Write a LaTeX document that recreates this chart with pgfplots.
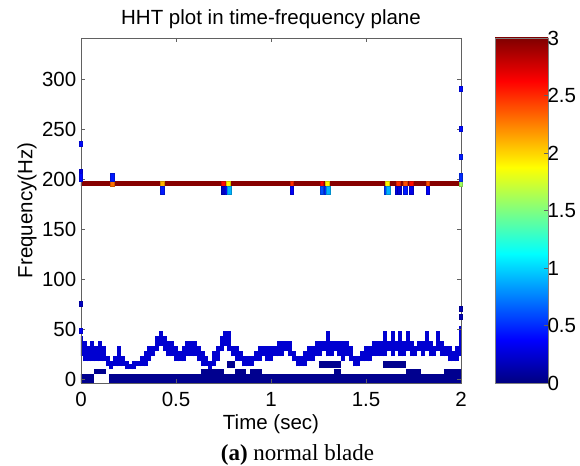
\documentclass[border=0pt]{standalone}
\usepackage{pgfplots}
\pgfplotsset{compat=1.18}
\usepackage{fontspec}
\setmainfont{Liberation Sans}
\newfontfamily\capfont{Liberation Serif}
\definecolor{navyc}{rgb}{0,0,0.56}
\definecolor{trackc}{rgb}{0,0,0.82}
\definecolor{linec}{rgb}{0.53,0,0}
\definecolor{axc}{rgb}{0.38,0.38,0.38}
\definecolor{jetA}{RGB}{0,0,128}
\definecolor{jetB}{RGB}{0,0,255}
\definecolor{jetC}{RGB}{0,255,255}
\definecolor{jetD}{RGB}{255,255,0}
\definecolor{jetE}{RGB}{255,0,0}
\definecolor{jetF}{RGB}{128,0,0}
\pgfkeys{/pgf/number format/assume math mode=true}
\newcommand\F{\fontsize{20.5bp}{24bp}\selectfont}
\begin{document}
\begin{tikzpicture}
\path[use as bounding box] (-81bp,-83bp) rectangle (499bp,383bp);
\begin{axis}[
  at={(0,0)}, anchor=south west,
  scale only axis, width=380bp, height=345bp,
  xmin=0, xmax=2, ymin=-4, ymax=341,
  xtick={0,0.5,1,1.5,2}, ytick={0,50,...,300},
  tick align=inside, major tick length=4bp,
  axis line style={axc, line width=0.6bp}, tick style={axc, line width=0.6bp},
  axis on top,
  tick label style={font=\F},
  xticklabel style={anchor=base, yshift=-24bp},
  yticklabel style={anchor=east, xshift=-1.2bp},
  title={HHT plot in time-frequency plane},
  title style={font=\F, at={(axis description cs:0.5,1)}, anchor=base, yshift=8bp},
  xlabel={Time (sec)},
  xlabel style={font=\F, at={(axis description cs:0.5,0)}, anchor=base, yshift=-46bp},
  ylabel={Frequency(Hz)},
  ylabel style={font=\F, at={(axis description cs:-0.142,0.5)}, anchor=center},
  colormap/jet, point meta min=0, point meta max=3,
  unbounded coords=jump,
]
% bottom navy band
\addplot[navyc, line width=9bp] coordinates {(-0.02,0) (0.07,0) (0.07,nan) (0.15,0) (2.02,0)};
% second navy row
\addplot[navyc, line width=5bp] coordinates {
 (0.07,7) (0.13,7) (0.13,nan)
 (0.63,7) (0.75,7) (0.75,nan)
 (0.81,7) (0.87,7) (0.87,nan)
 (0.89,7) (0.95,7) (0.95,nan)
 (1.33,7) (1.37,7) (1.37,nan)
 (1.71,7) (1.79,7) (1.79,nan)
 (1.91,7) (2.02,7)};
% navy blocks
\addplot[navyc, line width=7bp] coordinates {
 (0.77,14.5) (0.81,14.5) (0.81,nan)
 (1.25,14.5) (1.37,14.5) (1.37,nan)
 (1.59,14.5) (1.71,14.5)};
% blue track (column: low, high)
\addplot[trackc, line width=3.9bp] coordinates {
(0.00,22.5)(0.00,42.5)(0.00,nan)
(0.02,17.5)(0.02,37.5)(0.02,nan)
(0.04,17.5)(0.04,32.5)(0.04,nan)
(0.06,17.5)(0.06,37.5)(0.06,nan)
(0.08,17.5)(0.08,32.5)(0.08,nan)
(0.10,17.5)(0.10,37.5)(0.10,nan)
(0.12,17.5)(0.12,32.5)(0.12,nan)
(0.14,12.5)(0.14,22.5)(0.14,nan)
(0.16,9.5)(0.16,17.5)(0.16,nan)
(0.18,12.5)(0.18,22.5)(0.18,nan)
(0.20,12.5)(0.20,32.5)(0.20,nan)
(0.22,12.5)(0.22,22.5)(0.22,nan)
(0.24,9.5)(0.24,17.5)(0.24,nan)
(0.26,9.5)(0.26,14.5)(0.26,nan)
(0.28,9.5)(0.28,17.5)(0.28,nan)
(0.30,12.5)(0.30,17.5)(0.30,nan)
(0.32,12.5)(0.32,22.5)(0.32,nan)
(0.34,12.5)(0.34,27.5)(0.34,nan)
(0.36,17.5)(0.36,32.5)(0.36,nan)
(0.38,22.5)(0.38,32.5)(0.38,nan)
(0.40,27.5)(0.40,42.5)(0.40,nan)
(0.42,32.5)(0.42,47.5)(0.42,nan)
(0.44,27.5)(0.44,42.5)(0.44,nan)
(0.46,22.5)(0.46,37.5)(0.46,nan)
(0.48,22.5)(0.48,37.5)(0.48,nan)
(0.50,17.5)(0.50,32.5)(0.50,nan)
(0.52,17.5)(0.52,27.5)(0.52,nan)
(0.54,17.5)(0.54,32.5)(0.54,nan)
(0.56,22.5)(0.56,37.5)(0.56,nan)
(0.58,22.5)(0.58,37.5)(0.58,nan)
(0.60,22.5)(0.60,37.5)(0.60,nan)
(0.62,17.5)(0.62,32.5)(0.62,nan)
(0.64,12.5)(0.64,27.5)(0.64,nan)
(0.66,12.5)(0.66,22.5)(0.66,nan)
(0.68,9.5)(0.68,17.5)(0.68,nan)
(0.70,12.5)(0.70,27.5)(0.70,nan)
(0.72,17.5)(0.72,32.5)(0.72,nan)
(0.74,27.5)(0.74,42.5)(0.74,nan)
(0.76,32.5)(0.76,47.5)(0.76,nan)
(0.78,27.5)(0.78,47.5)(0.78,nan)
(0.80,22.5)(0.80,32.5)(0.80,nan)
(0.82,17.5)(0.82,32.5)(0.82,nan)
(0.84,17.5)(0.84,27.5)(0.84,nan)
(0.86,12.5)(0.86,22.5)(0.86,nan)
(0.88,12.5)(0.88,22.5)(0.88,nan)
(0.90,12.5)(0.90,22.5)(0.90,nan)
(0.92,17.5)(0.92,27.5)(0.92,nan)
(0.94,17.5)(0.94,32.5)(0.94,nan)
(0.96,22.5)(0.96,32.5)(0.96,nan)
(0.98,17.5)(0.98,32.5)(0.98,nan)
(1.00,17.5)(1.00,32.5)(1.00,nan)
(1.02,22.5)(1.02,32.5)(1.02,nan)
(1.04,22.5)(1.04,37.5)(1.04,nan)
(1.06,22.5)(1.06,37.5)(1.06,nan)
(1.08,27.5)(1.08,37.5)(1.08,nan)
(1.10,22.5)(1.10,37.5)(1.10,nan)
(1.12,17.5)(1.12,27.5)(1.12,nan)
(1.14,12.5)(1.14,22.5)(1.14,nan)
(1.16,12.5)(1.16,22.5)(1.16,nan)
(1.18,12.5)(1.18,27.5)(1.18,nan)
(1.20,17.5)(1.20,32.5)(1.20,nan)
(1.22,17.5)(1.22,32.5)(1.22,nan)
(1.24,22.5)(1.24,37.5)(1.24,nan)
(1.26,22.5)(1.26,37.5)(1.26,nan)
(1.28,27.5)(1.28,37.5)(1.28,nan)
(1.30,22.5)(1.30,47.5)(1.30,nan)
(1.32,22.5)(1.32,37.5)(1.32,nan)
(1.34,27.5)(1.34,37.5)(1.34,nan)
(1.36,22.5)(1.36,37.5)(1.36,nan)
(1.38,17.5)(1.38,37.5)(1.38,nan)
(1.40,22.5)(1.40,37.5)(1.40,nan)
(1.42,17.5)(1.42,32.5)(1.42,nan)
(1.44,12.5)(1.44,22.5)(1.44,nan)
(1.46,12.5)(1.46,22.5)(1.46,nan)
(1.48,17.5)(1.48,27.5)(1.48,nan)
(1.50,17.5)(1.50,32.5)(1.50,nan)
(1.52,17.5)(1.52,32.5)(1.52,nan)
(1.54,22.5)(1.54,37.5)(1.54,nan)
(1.56,22.5)(1.56,37.5)(1.56,nan)
(1.58,22.5)(1.58,37.5)(1.58,nan)
(1.60,22.5)(1.60,47.5)(1.60,nan)
(1.62,27.5)(1.62,37.5)(1.62,nan)
(1.64,22.5)(1.64,47.5)(1.64,nan)
(1.66,27.5)(1.66,37.5)(1.66,nan)
(1.68,22.5)(1.68,47.5)(1.68,nan)
(1.70,22.5)(1.70,37.5)(1.70,nan)
(1.72,27.5)(1.72,47.5)(1.72,nan)
(1.74,22.5)(1.74,37.5)(1.74,nan)
(1.76,22.5)(1.76,32.5)(1.76,nan)
(1.78,27.5)(1.78,37.5)(1.78,nan)
(1.80,22.5)(1.80,37.5)(1.80,nan)
(1.82,27.5)(1.82,47.5)(1.82,nan)
(1.84,22.5)(1.84,37.5)(1.84,nan)
(1.86,22.5)(1.86,32.5)(1.86,nan)
(1.88,27.5)(1.88,47.5)(1.88,nan)
(1.90,22.5)(1.90,37.5)(1.90,nan)
(1.92,22.5)(1.92,32.5)(1.92,nan)
(1.94,17.5)(1.94,32.5)(1.94,nan)
(1.96,17.5)(1.96,27.5)(1.96,nan)
(1.98,17.5)(1.98,32.5)(1.98,nan)
(2.00,22.5)(2.00,52.5)
};
% dominant component near 195 Hz
\addplot[linec, line width=5bp] coordinates {(-0.02,195) (2.02,195)};
% coloured cells on the 195 Hz line and at the edges
\addplot[scatter, only marks, mark=square*, mark size=1.9bp,
  mark options={yscale=1.316, line width=0pt}, point meta=explicit]
  table[meta=v] {
x y v
0.167 195 2.3
0.430 195 2.1
0.748 195 2.6
0.778 195 1.9
1.110 195 2.5
1.268 195 2.6
1.298 195 1.9
1.613 195 1.9
1.670 195 2.5
1.708 195 2.4
1.738 195 2.6
1.826 195 2.4
2.000 195 1.6
0.000 207 0.3
0.000 235 0.4
0.000 75 0.2
0.000 48 0.35
2.000 222 0.45
2.000 250 0.4
2.000 290 0.4
2.000 70 0.15
2.000 62 0.15
};
% cells just below the line
\addplot[scatter, only marks, mark=square*, mark size=1.9bp,
  mark options={yscale=2.0, line width=0pt}, point meta=explicit]
  table[meta=v] {
x y v
0.430 188.7 0.45
0.748 188.7 0.2
0.768 188.7 0.4
0.782 188.7 0.9
1.110 188.7 0.35
1.268 188.7 0.6
1.290 188.7 0.5
1.302 188.7 0.9
1.607 188.7 0.55
1.618 188.7 0.9
1.663 188.7 0.3
1.678 188.7 0.25
1.708 188.7 0.45
1.738 188.7 0.3
1.826 188.7 0.35
};
% cells just above the line
\addplot[scatter, only marks, mark=square*, mark size=1.9bp,
  mark options={yscale=2.2, line width=0pt}, point meta=explicit]
  table[meta=v] {
x y v
0.167 201.5 0.45
0.000 201.5 0.4
2.000 201.5 0.5
};
\end{axis}
% colour bar
\begin{axis}[
  at={(414bp,0)}, anchor=south west,
  scale only axis, width=53bp, height=345bp,
  xmin=0, xmax=1, ymin=0, ymax=3,
  xtick=\empty, ytick={0,0.5,1,1.5,2,2.5,3},
  ytick pos=right, yticklabel pos=right,
  tick align=inside, major tick length=4bp,
  axis line style={gray, line width=0.6bp}, tick style={axc, line width=0.6bp},
  yticklabel style={font=\F, anchor=west, xshift=-4bp},
  axis on top,
]
\addplot[draw=none, forget plot] coordinates {(0,0) (1,3)};
\shade[bottom color=jetA, top color=jetB] (axis cs:0,0) rectangle (axis cs:1,0.375);
\shade[bottom color=jetB, top color=jetC] (axis cs:0,0.375) rectangle (axis cs:1,1.125);
\shade[bottom color=jetC, top color=jetD] (axis cs:0,1.125) rectangle (axis cs:1,1.875);
\shade[bottom color=jetD, top color=jetE] (axis cs:0,1.875) rectangle (axis cs:1,2.625);
\shade[bottom color=jetE, top color=jetF] (axis cs:0,2.625) rectangle (axis cs:1,3);
\end{axis}
\node[font=\capfont\fontsize{23bp}{26bp}\selectfont, anchor=base] at (216.5bp,-77bp) {\textbf{(a)} normal blade};
\end{tikzpicture}
\end{document}
